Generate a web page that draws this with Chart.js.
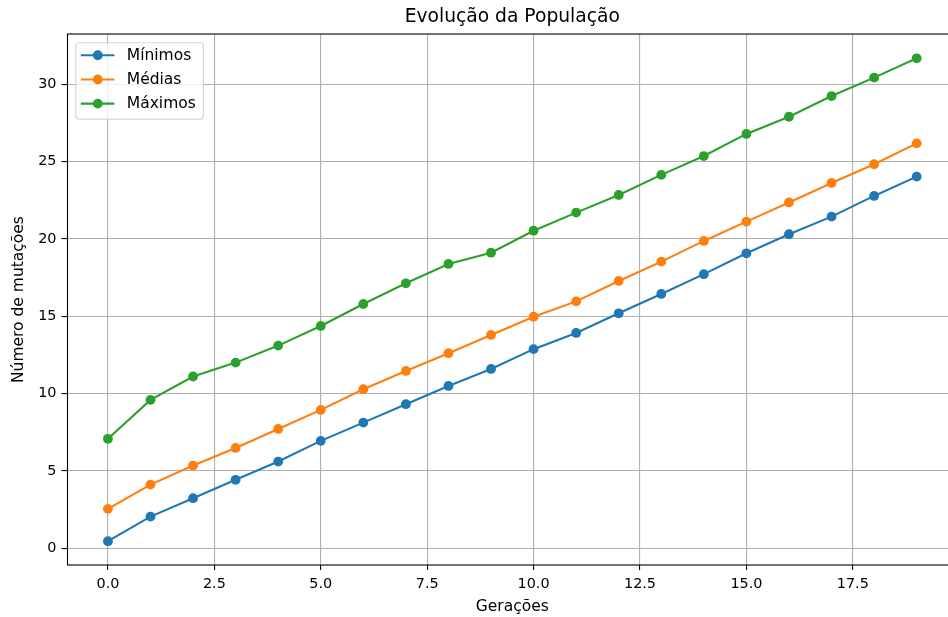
<!DOCTYPE html>
<html>
<head>
<meta charset="utf-8">
<script src="https://cdn.jsdelivr.net/npm/chart.js@4/dist/chart.umd.min.js"></script>
<style>
  html, body { margin: 0; padding: 0; overflow: hidden; background: #fff; width: 948px; height: 617px; }
  #wrap { width: 962px; height: 617px; }
  canvas { display: block; }
</style>
</head>
<body>
<div id="wrap"><canvas id="c" width="962" height="617"></canvas></div>
<script>
// Generations and the number of mutations recorded in each one
const geracoes = [0, 1, 2, 3, 4, 5, 6, 7, 8, 9, 10, 11, 12, 13, 14, 15, 16, 17, 18, 19];
const minimos  = [0.45, 2.04, 3.23, 4.42, 5.60, 6.94, 8.12, 9.31, 10.49, 11.59, 12.87, 13.92, 15.19, 16.44, 17.72, 19.07, 20.30, 21.44, 22.78, 24.03];
const medias   = [2.54, 4.11, 5.34, 6.48, 7.71, 8.94, 10.28, 11.46, 12.61, 13.79, 14.97, 15.96, 17.28, 18.53, 19.87, 21.12, 22.36, 23.62, 24.83, 26.18];
const maximos  = [7.07, 9.59, 11.10, 12.00, 13.10, 14.37, 15.79, 17.13, 18.38, 19.11, 20.53, 21.70, 22.84, 24.14, 25.36, 26.79, 27.90, 29.24, 30.43, 31.68];

const xTicks = [0, 2.5, 5, 7.5, 10, 12.5, 15, 17.5];
const yTicks = [0, 5, 10, 15, 20, 25, 30];

const FONT = '"DejaVu Sans", "Liberation Sans", sans-serif';
Chart.defaults.font.family = FONT;
Chart.defaults.color = '#000';

const toPoints = arr => arr.map((v, i) => ({ x: geracoes[i], y: v }));

const serie = (label, values, color) => ({
  label,
  data: toPoints(values),
  borderColor: color,
  backgroundColor: color,
  borderWidth: 2.1,
  pointRadius: 4.9,
  pointHoverRadius: 4.9,
  pointBorderWidth: 0,
  pointBackgroundColor: color,
  tension: 0
});

// Black frame around the plotting area (its right side falls just outside the visible page)
const frame = {
  id: 'frame',
  afterDatasetsDraw(chart) {
    const { ctx, chartArea: a } = chart;
    ctx.save();
    ctx.strokeStyle = '#000';
    ctx.lineWidth = 1.1;
    ctx.strokeRect(a.left, a.top, a.right - a.left, a.bottom - a.top);
    ctx.restore();
  }
};

// Legend box in the upper-left corner of the plot
const legendBox = {
  id: 'legendBox',
  afterDraw(chart) {
    const { ctx, chartArea: a } = chart;
    const x = a.left + 8.3, y = a.top + 8.7, w = 127.6, h = 76.3;
    ctx.save();
    ctx.globalAlpha = 0.8;
    ctx.beginPath();
    ctx.roundRect(x, y, w, h, 3);
    ctx.fillStyle = '#fff';
    ctx.fill();
    ctx.lineWidth = 1.2;
    ctx.strokeStyle = '#cccccc';
    ctx.stroke();
    ctx.globalAlpha = 1;
    chart.data.datasets.forEach((ds, i) => {
      const cy = y + 12.5 + i * 24.2;
      ctx.strokeStyle = ds.borderColor;
      ctx.lineWidth = 2.1;
      ctx.beginPath();
      ctx.moveTo(x + 5, cy);
      ctx.lineTo(x + 38.6, cy);
      ctx.stroke();
      ctx.fillStyle = ds.backgroundColor;
      ctx.beginPath();
      ctx.arc(x + 22, cy, 4.9, 0, Math.PI * 2);
      ctx.fill();
      ctx.fillStyle = '#000';
      ctx.font = '15.5px ' + FONT;
      ctx.textBaseline = 'middle';
      ctx.textAlign = 'left';
      ctx.fillText(ds.label, x + 51, cy + 0.5);
    });
    ctx.restore();
  }
};

const tickFont = { size: 14.4, family: FONT };
const labelFont = { size: 15.5, family: FONT };

new Chart(document.getElementById('c'), {
  type: 'line',
  data: {
    datasets: [
      serie('Mínimos', minimos, '#1f77b4'),
      serie('Médias', medias, '#ff7f0e'),
      serie('Máximos', maximos, '#2ca02c')
    ]
  },
  options: {
    responsive: false,
    animation: false,
    devicePixelRatio: 1,
    layout: { padding: { left: 0, right: 3, top: 0, bottom: 0 } },
    plugins: {
      legend: { display: false },
      tooltip: { enabled: false },
      title: {
        display: true,
        text: 'Evolução da População',
        fullSize: false,
        color: '#000',
        font: { size: 18.7, family: FONT, weight: 'normal' },
        padding: { top: 6.3, bottom: 5.3 }
      }
    },
    scales: {
      x: {
        type: 'linear',
        min: -0.95,
        max: 19.95,
        afterBuildTicks: s => { s.ticks = xTicks.map(v => ({ value: v })); },
        afterFit: s => { s.height = 52; s.paddingLeft = 0; s.paddingRight = 0; },
        ticks: {
          callback: v => Number(v).toFixed(1),
          font: tickFont,
          color: '#000',
          padding: 6,
          maxRotation: 0,
          autoSkip: false
        },
        grid: { color: '#b0b0b0', lineWidth: 1.1, tickColor: '#000', tickLength: 5, drawTicks: true },
        border: { display: false },
        title: {
          display: true,
          text: 'Gerações',
          color: '#000',
          font: labelFont,
          padding: { top: 2, bottom: 1 }
        }
      },
      y: {
        type: 'linear',
        min: -1.09,
        max: 33.25,
        afterBuildTicks: s => { s.ticks = yTicks.map(v => ({ value: v })); },
        afterFit: s => { s.width = 67.5; },
        ticks: {
          callback: v => String(v),
          font: tickFont,
          color: '#000',
          padding: 5,
          autoSkip: false
        },
        grid: { color: '#b0b0b0', lineWidth: 1.1, tickColor: '#000', tickLength: 6, drawTicks: true },
        border: { display: false },
        title: {
          display: true,
          text: 'Número de mutações',
          color: '#000',
          font: labelFont,
          padding: { top: 9.5, bottom: 3 }
        }
      }
    }
  },
  plugins: [frame, legendBox]
});
</script>
</body>
</html>
